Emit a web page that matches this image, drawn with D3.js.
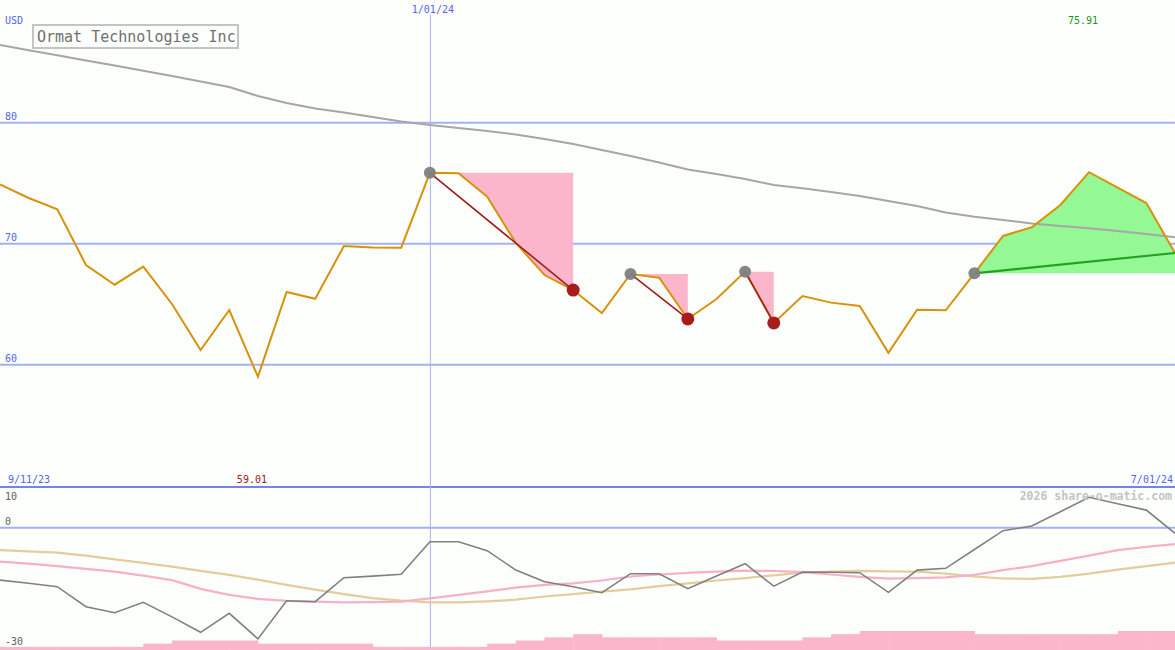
<!DOCTYPE html>
<html>
<head>
<meta charset="utf-8">
<script src="https://cdn.jsdelivr.net/npm/d3@7"></script>
<style>
html,body{margin:0;padding:0;background:#fcfffc;}
svg{display:block;}
text{font-family:"DejaVu Sans Mono","Liberation Mono",monospace;}
</style>
</head>
<body>
<svg id="chart" width="1175" height="650"></svg>
<script>
// ---- data (weekly, 18 Sep 2023 .. 1 Jul 2024) ----
const title = "Ormat Technologies Inc";
const price = [74.91,73.78,72.84,68.24,66.61,68.10,65.02,61.21,64.52,59.01,
  66.01,65.45,69.81,69.69,69.67,75.86,75.82,73.88,70.06,67.41,
  66.17,64.27,67.50,67.19,63.78,65.43,67.69,63.45,65.68,65.13,
  64.85,60.98,64.55,64.50,67.55,70.64,71.36,73.20,75.91,74.63,
  73.36,69.23];
const longMA = [86.42,85.99,85.57,85.14,84.72,84.29,83.86,83.40,82.95,82.21,
  81.63,81.17,80.84,80.47,80.10,79.81,79.56,79.31,79.02,78.65,
  78.24,77.74,77.25,76.71,76.13,75.76,75.35,74.85,74.58,74.27,
  73.94,73.53,73.12,72.58,72.23,71.96,71.67,71.46,71.27,71.05,
  70.80,70.53];
const osc = [-13.1,-13.9,-14.75,-19.75,-21.25,-18.65,-22.3,-26.15,-21.4,-27.8,
  -18.25,-18.5,-12.5,-12.1,-11.65,-3.5,-3.5,-5.75,-10.6,-13.5,
  -14.75,-16.25,-11.5,-11.5,-15.25,-12.1,-9.0,-14.6,-11.1,-11.15,
  -11.25,-16.15,-10.6,-10.15,-5.45,-0.75,0.43,4.0,7.6,6.0,
  4.4,-1.4];
const oscPink = [-8.5,-9.0,-9.6,-10.3,-11.0,-12.0,-13.1,-15.3,-16.8,-17.8,
  -18.3,-18.5,-18.65,-18.6,-18.5,-17.65,-16.8,-15.9,-15.0,-14.3,
  -13.9,-13.2,-12.2,-11.7,-11.3,-11.0,-10.75,-10.8,-11.1,-11.7,
  -12.3,-12.75,-12.6,-12.4,-11.8,-10.6,-9.6,-8.3,-7.0,-5.6,
  -4.8,-4.1];
const oscTan = [-5.6,-5.9,-6.25,-7.0,-7.9,-8.8,-9.75,-10.8,-11.8,-13.0,
  -14.3,-15.5,-16.6,-17.6,-18.25,-18.65,-18.65,-18.4,-18.0,-17.2,
  -16.6,-16.0,-15.4,-14.6,-13.9,-13.2,-12.6,-11.9,-11.25,-11.0,
  -10.8,-10.9,-11.0,-11.5,-12.2,-12.7,-12.8,-12.3,-11.5,-10.5,
  -9.6,-8.75];
// one bar per weekly interval
const bars = [1,1,1,1,1,2,3,3,3,2, 2,2,2,1,1,1,1,2,3,4, 5,4,4,4,4,3,3,3,4,5,
  6,6,6,6,5,5,5,5,5,6, 6];
// falling patterns [peakIndex, troughIndex] and rising pattern [startIndex, endIndex]
const falls = [[15,20],[22,24],[26,27]];
const rises = [[34,41]];
const priceTicks = [80,70,60];
const oscTicks = [{v:10,label:"10"},{v:0,label:"0"},{v:-30,label:"-30"}];
const dateLabels = {left:"9/11/23", mid:"1/01/24", midIndex:15, right:"7/01/24"};
const currency = "USD";
const watermark = "2026 share-o-matic.com";

// ---- scales ----
const W = 1175, H = 650;
const svg = d3.select("#chart");
const x = d3.scaleLinear().domain([0, price.length - 1]).range([0, W]);
const y = d3.scaleLinear().domain([60, 80]).range([364.7, 122.7]);
const yo = d3.scaleLinear().domain([-30, 10]).range([647.7, 487.7]);
const yb = d3.scaleLinear().domain([0, 6]).range([650, 631]);

svg.append("rect").attr("width", W).attr("height", H).attr("fill", "#fcfffc");

// gridlines
svg.selectAll("line.pg").data(priceTicks).enter().append("line")
  .attr("x1", 0).attr("x2", W).attr("y1", d => y(d)).attr("y2", d => y(d))
  .attr("stroke", "#a4b2f4").attr("stroke-width", 2);
svg.append("line").attr("x1", 0).attr("x2", W).attr("y1", yo(0)).attr("y2", yo(0))
  .attr("stroke", "#a4b2f4").attr("stroke-width", 2);
svg.append("line").attr("x1", 0).attr("x2", W).attr("y1", 487).attr("y2", 487)
  .attr("stroke", "#7484ee").attr("stroke-width", 2);
svg.append("line").attr("x1", x(dateLabels.midIndex) + 0.5).attr("x2", x(dateLabels.midIndex) + 0.5)
  .attr("y1", 15).attr("y2", H).attr("stroke", "#a8b4ec").attr("stroke-width", 1);

// bars
svg.selectAll("rect.bar").data(bars).enter().append("rect")
  .attr("x", (d, i) => x(i)).attr("width", (d, i) => x(i + 1) - x(i) + 0.5)
  .attr("y", d => yb(d)).attr("height", d => yb(0) - yb(d))
  .attr("fill", "#fbb6cc");

const line = (arr, sc) => d3.line().x((d, i) => x(i)).y(d => sc(d))(arr);

// lower panel lines
svg.append("path").attr("d", line(oscTan, yo)).attr("fill", "none")
  .attr("stroke", "#e4cc9c").attr("stroke-width", 2.2);
svg.append("path").attr("d", line(oscPink, yo)).attr("fill", "none")
  .attr("stroke", "#f8b0c8").attr("stroke-width", 2.2);
svg.append("path").attr("d", line(osc, yo)).attr("fill", "none")
  .attr("stroke", "#808080").attr("stroke-width", 1.6);

// pink fall areas
falls.forEach(([a, b]) => {
  const pts = [];
  for (let i = a; i <= b; i++) pts.push([x(i), y(price[i])]);
  pts.push([x(b), y(price[a])]);
  svg.append("polygon").attr("points", pts.map(p => p.join(",")).join(" "))
    .attr("fill", "#fbb6cc");
});
// green rise areas
rises.forEach(([a, b]) => {
  const pts = [];
  for (let i = a; i <= b; i++) pts.push([x(i), y(price[i])]);
  pts.push([x(b), y(price[a])]);
  svg.append("polygon").attr("points", pts.map(p => p.join(",")).join(" "))
    .attr("fill", "#94f894");
});

// long MA
svg.append("path").attr("d", line(longMA, y)).attr("fill", "none")
  .attr("stroke", "#a6a6a6").attr("stroke-width", 2);

// price line
svg.append("path").attr("d", line(price, y)).attr("fill", "none")
  .attr("stroke", "#d8920a").attr("stroke-width", 2);

// trend lines
falls.forEach(([a, b]) => {
  svg.append("line").attr("x1", x(a)).attr("y1", y(price[a])).attr("x2", x(b)).attr("y2", y(price[b]))
    .attr("stroke", "#a01c1c").attr("stroke-width", 1.6);
});
rises.forEach(([a, b]) => {
  svg.append("line").attr("x1", x(a)).attr("y1", y(price[a])).attr("x2", x(b)).attr("y2", y(price[b]))
    .attr("stroke", "#24a024").attr("stroke-width", 2.2);
});

// markers
const peaks = falls.map(f => f[0]).concat(rises.map(r => r[0]));
const troughs = falls.map(f => f[1]);
svg.selectAll("circle.pk").data(peaks).enter().append("circle")
  .attr("cx", d => x(d)).attr("cy", d => y(price[d])).attr("r", 6)
  .attr("fill", "#808080").attr("opacity", 0.95);
svg.selectAll("circle.tr").data(troughs).enter().append("circle")
  .attr("cx", d => x(d)).attr("cy", d => y(price[d])).attr("r", 6.5)
  .attr("fill", "#a81c1c");

// texts
const blue = "#5464f4";
svg.append("text").attr("x", 5).attr("y", 24).attr("font-size", 10).attr("fill", blue).text(currency);
svg.selectAll("text.pt").data(priceTicks).enter().append("text")
  .attr("x", 5).attr("y", d => y(d) - 3).attr("font-size", 10).attr("fill", blue).text(d => d);
svg.append("text").attr("x", x(dateLabels.midIndex) + 3).attr("y", 13).attr("font-size", 10)
  .attr("text-anchor", "middle").attr("fill", blue).text(dateLabels.mid);
svg.append("text").attr("x", 8).attr("y", 483).attr("font-size", 10).attr("fill", blue).text(dateLabels.left);
svg.append("text").attr("x", W - 2).attr("y", 483).attr("font-size", 10).attr("text-anchor", "end")
  .attr("fill", blue).text(dateLabels.right);

const iMax = d3.maxIndex(price), iMin = d3.minIndex(price);
svg.append("text").attr("x", x(iMax) - 6).attr("y", 24).attr("font-size", 10).attr("text-anchor", "middle")
  .attr("fill", "#189818").text(price[iMax].toFixed(2));
svg.append("text").attr("x", x(iMin) - 6).attr("y", 483).attr("font-size", 10).attr("text-anchor", "middle")
  .attr("fill", "#a01818").text(price[iMin].toFixed(2));

svg.append("text").attr("x", 5).attr("y", 500).attr("font-size", 10).attr("fill", "#606060").text(oscTicks[0].label);
svg.append("text").attr("x", 5).attr("y", yo(0) - 3).attr("font-size", 10).attr("fill", "#606060").text(oscTicks[1].label);
svg.append("text").attr("x", 5).attr("y", yo(-30) - 3).attr("font-size", 10).attr("fill", "#606060").text(oscTicks[2].label);

svg.append("text").attr("x", W - 3).attr("y", 500).attr("font-size", 11.5).attr("font-weight", "bold")
  .attr("text-anchor", "end").attr("fill", "#c4c4c4").text(watermark);

// title box
svg.append("rect").attr("x", 33).attr("y", 25).attr("width", 205).attr("height", 23)
  .attr("fill", "#fcfffc").attr("stroke", "#c4c4c4").attr("stroke-width", 2);
svg.append("text").attr("x", 37).attr("y", 41.5).attr("font-size", 15).attr("fill", "#707070").text(title);
</script>
</body>
</html>
